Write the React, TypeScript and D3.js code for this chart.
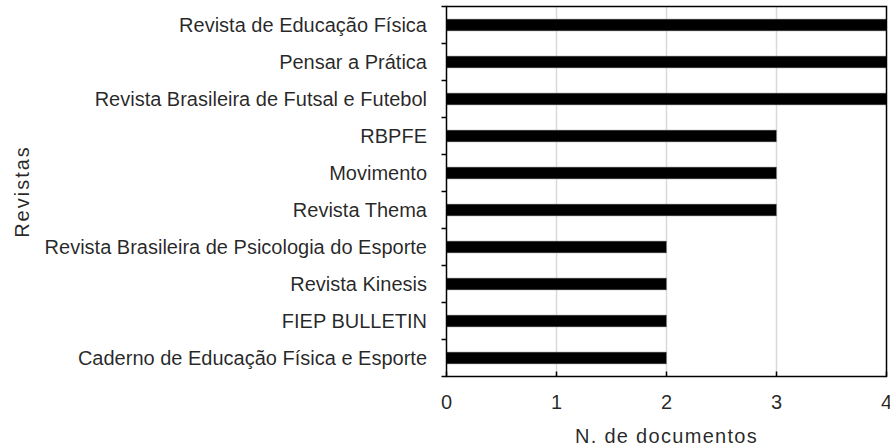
import React from "react";
import * as d3 from "d3";

const journals = [
  "Revista de Educação Física",
  "Pensar a Prática",
  "Revista Brasileira de Futsal e Futebol",
  "RBPFE",
  "Movimento",
  "Revista Thema",
  "Revista Brasileira de Psicologia do Esporte",
  "Revista Kinesis",
  "FIEP BULLETIN",
  "Caderno de Educação Física e Esporte",
];
const documents = [4, 4, 4, 3, 3, 3, 2, 2, 2, 2];
const xTicks = [0, 1, 2, 3, 4];
const xTitle = "N. de documentos";
const yTitle = "Revistas";

export default function App() {
  const W = 890, H = 448;
  const left = 446.5, right = 886.5, top = 6.5, bottom = 376.5;
  const x = d3.scaleLinear().domain([0, 4]).range([left, right]);
  const y = d3.scaleBand<string>().domain(journals).range([top, bottom]).paddingInner(0.68).paddingOuter(0.34);
  const band = d3.scaleBand<string>().domain(journals).range([top, bottom]);
  const font = "'Liberation Sans', Arial, sans-serif";
  return (
    <svg width={W} height={H} style={{ position: "absolute", left: 0, top: 0, background: "#fff" }} fontFamily={font}>
      {xTicks.slice(1, -1).map((t) => (
        <line key={"g" + t} x1={x(t)} x2={x(t)} y1={top} y2={bottom} stroke="#d9d9d9" strokeWidth={1.5} />
      ))}
      {journals.map((j, i) => (
        <rect key={j} x={x(0)} y={y(j)} width={x(documents[i]) - x(0)} height={y.bandwidth()} fill="#000" stroke="#888" strokeWidth={0.5} />
      ))}
      <rect x={left} y={top} width={right - left} height={bottom - top} fill="none" stroke="#000" strokeWidth={1.5} />
      {journals.map((j, i) => (
        <line key={"yt" + i} x1={left - 5} x2={left} y1={band(j)!} y2={band(j)!} stroke="#000" strokeWidth={1.5} />
      ))}
      <line x1={left - 5} x2={left} y1={bottom} y2={bottom} stroke="#000" strokeWidth={1.5} />
      {xTicks.map((t) => (
        <line key={"xt" + t} x1={x(t)} x2={x(t)} y1={bottom} y2={bottom - 5} stroke="#000" strokeWidth={1.5} />
      ))}
      {journals.map((j) => (
        <text key={"l" + j} x={427} y={y(j)! + y.bandwidth() / 2} dy="0.36em" textAnchor="end" fontSize={20} fill="#000" fillOpacity={0.85}>
          {j}
        </text>
      ))}
      {xTicks.map((t) => (
        <text key={"xl" + t} x={x(t)} y={402} dy="0.36em" textAnchor="middle" fontSize={20} fill="#000" fillOpacity={0.85}>
          {t}
        </text>
      ))}
      <text x={(left + right) / 2} y={436} dy="0.36em" textAnchor="middle" fontSize={20} letterSpacing={1.3} fill="#000" fillOpacity={0.85}>
        {xTitle}
      </text>
      <text transform={`translate(22,${(top + bottom) / 2}) rotate(-90)`} dy="0.36em" textAnchor="middle" fontSize={20} letterSpacing={2} fill="#000" fillOpacity={0.85}>
        {yTitle}
      </text>
    </svg>
  );
}
